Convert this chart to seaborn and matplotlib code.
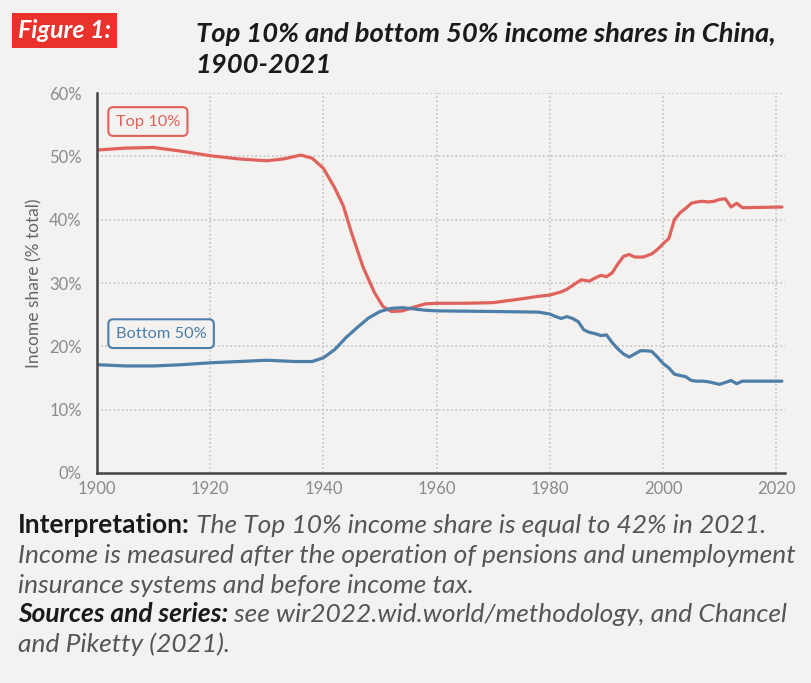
import numpy as np
import pandas as pd
import matplotlib
matplotlib.use("Agg")
import matplotlib.pyplot as plt
import seaborn as sns
from matplotlib.ticker import FuncFormatter, MultipleLocator

# values (income share, %)
top_years = [1900, 1905, 1910, 1915, 1920, 1925, 1930, 1933, 1936, 1938, 1940, 1942,
             1943.5, 1945, 1947, 1949, 1950.5, 1952, 1954, 1956, 1958, 1960, 1965, 1970,
             1975, 1978, 1980, 1982, 1983, 1984, 1985.5, 1987, 1988, 1989, 1990, 1991,
             1992, 1993, 1994, 1995, 1996.5, 1998, 1999, 2000, 2001, 2002, 2003, 2004,
             2005, 2006, 2007, 2008, 2009, 2010, 2011, 2012, 2013, 2014, 2015, 2021]
top10 = [51.0, 51.3, 51.4, 50.8, 50.1, 49.6, 49.3, 49.6, 50.2, 49.7, 48.1, 45.0,
         42.2, 37.8, 32.5, 28.5, 26.3, 25.5, 25.6, 26.2, 26.7, 26.8, 26.8, 26.9,
         27.5, 27.9, 28.1, 28.6, 29.0, 29.6, 30.5, 30.3, 30.8, 31.2, 31.0, 31.6,
         33.0, 34.2, 34.5, 34.1, 34.1, 34.6, 35.3, 36.2, 37.0, 40.0, 41.1, 41.8,
         42.6, 42.8, 42.9, 42.8, 42.9, 43.2, 43.3, 42.0, 42.6, 41.9, 41.9, 42.0]

bot_years = [1900, 1905, 1910, 1915, 1920, 1925, 1930, 1935, 1938, 1940, 1942, 1944,
             1946, 1948, 1950, 1952, 1954, 1956, 1958, 1960, 1970, 1978, 1980, 1981,
             1982, 1983, 1984, 1985, 1986, 1987, 1988, 1989, 1990, 1991, 1992, 1993,
             1994, 1995, 1996, 1997, 1998, 1999, 2000, 2001, 2002, 2003, 2004, 2005,
             2006, 2007, 2008, 2009, 2010, 2011, 2012, 2013, 2014, 2015, 2021]
bottom50 = [17.1, 16.9, 16.9, 17.1, 17.4, 17.6, 17.8, 17.6, 17.6, 18.2, 19.5, 21.4,
            23.0, 24.5, 25.5, 26.0, 26.1, 25.9, 25.7, 25.6, 25.5, 25.4, 25.1, 24.7,
            24.4, 24.7, 24.4, 23.9, 22.6, 22.2, 22.0, 21.7, 21.8, 20.6, 19.6, 18.8,
            18.3, 18.8, 19.3, 19.3, 19.2, 18.3, 17.3, 16.6, 15.6, 15.4, 15.2, 14.6,
            14.5, 14.5, 14.4, 14.2, 14.0, 14.3, 14.6, 14.1, 14.5, 14.5, 14.5]

xticks = [1900, 1920, 1940, 1960, 1980, 2000, 2020]

bg = "#f3f2f0"
red = "#e0625c"
blue = "#4d7ea8"

sns.set_style("white", {"axes.facecolor": bg, "figure.facecolor": bg})
plt.rcParams['font.family'] = ['Lato', 'DejaVu Sans']

top_df = pd.DataFrame({"year": top_years, "share": top10})
bot_df = pd.DataFrame({"year": bot_years, "share": bottom50})

fig = plt.figure(figsize=(8.12, 6.83), dpi=100)
ax = fig.add_axes([0.1195, 0.3075, 0.847, 0.5563])

sns.lineplot(data=top_df, x="year", y="share", color=red, linewidth=2.3, ax=ax)
sns.lineplot(data=bot_df, x="year", y="share", color=blue, linewidth=2.3, ax=ax)

ax.set_xlim(1900, 2021.5)
ax.set_ylim(0, 60)
ax.set_xticks(xticks)
ax.yaxis.set_major_locator(MultipleLocator(10))
ax.yaxis.set_major_formatter(FuncFormatter(lambda v, p: f"{int(v)}%"))
ax.grid(True, color="#c4c4c4", linestyle=(0, (1, 1.5)), linewidth=1.2)
ax.set_axisbelow(True)
for s in ["top", "right"]:
    ax.spines[s].set_visible(False)
for s in ["left", "bottom"]:
    ax.spines[s].set_color("#444444")
    ax.spines[s].set_linewidth(1.8)
ax.tick_params(axis="y", length=0, labelsize=12, labelcolor="#8a8a8a", pad=11)
ax.tick_params(axis="x", length=0, labelsize=12, labelcolor="#8a8a8a", pad=6)
ax.set_xlabel("")
ax.set_ylabel("Income share (% total)", fontsize=12.5, color="#666666", labelpad=5)

ax.text(1903.3, 55.5, "Top 10%", color=red, fontsize=11.8, va="center", ha="left",
        bbox=dict(boxstyle="round,pad=0.45,rounding_size=0.3", fc=bg, ec=red, lw=1.5))
ax.text(1903.3, 22.0, "Bottom 50%", color=blue, fontsize=11.8, va="center", ha="left",
        bbox=dict(boxstyle="round,pad=0.45,rounding_size=0.3", fc=bg, ec=blue, lw=1.5))

# header
fig.text(0.022, 0.955, "Figure 1:", color="white", fontsize=18, fontweight="bold",
         fontstyle="italic", va="center", ha="left",
         bbox=dict(boxstyle="square,pad=0.25", fc="#e8322b", ec="none"))
fig.text(0.241, 0.938, "Top 10% and bottom 50% income shares in China,", fontsize=19.7,
         fontweight="bold", fontstyle="italic", color="#1a1a1a", va="baseline")
fig.text(0.241, 0.893, "1900-2021", fontsize=19.7, fontweight="bold", fontstyle="italic",
         color="#1a1a1a", va="baseline")

# notes below the chart
fs = 19
grey = "#555555"
t1 = fig.text(0.022, 0.219, "Interpretation:", fontsize=fs, fontweight="bold", color="#1a1a1a")
ax.annotate(" The Top 10% income share is equal to 42% in 2021.", xy=(1, 0), xycoords=t1,
            va="bottom", fontsize=fs, fontstyle="italic", color=grey, annotation_clip=False)
fig.text(0.022, 0.176, "Income is measured after the operation of pensions and unemployment",
         fontsize=fs, fontstyle="italic", color=grey)
fig.text(0.022, 0.132, "insurance systems and before income tax.", fontsize=fs,
         fontstyle="italic", color=grey)
t2 = fig.text(0.022, 0.089, "Sources and series:", fontsize=fs, fontweight="bold",
              fontstyle="italic", color="#1a1a1a")
ax.annotate(" see wir2022.wid.world/methodology, and Chancel", xy=(1, 0), xycoords=t2,
            va="bottom", fontsize=fs, fontstyle="italic", color=grey, annotation_clip=False)
fig.text(0.022, 0.045, "and Piketty (2021).", fontsize=fs, fontstyle="italic", color=grey)

fig.savefig("out.png", dpi=100, facecolor=bg)
